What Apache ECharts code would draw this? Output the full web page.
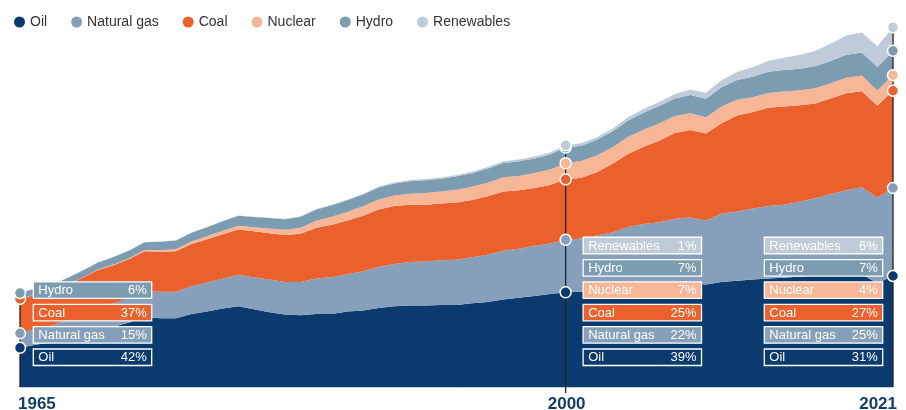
<!DOCTYPE html>
<html>
<head>
<meta charset="utf-8">
<script src="https://cdn.jsdelivr.net/npm/echarts@6/dist/echarts.min.js"></script>
<style>
  html, body { margin: 0; padding: 0; background: #fff; }
  #chart { width: 906px; height: 410px; }
</style>
</head>
<body>
<div id="chart"></div>
<script>
// years on the x axis
const years = []
for (let y = 1965; y <= 2021; y++) years.push(String(y))

// primary energy consumption by source (EJ)
const oil = [65, 70, 74, 80, 87, 95, 100, 107, 116, 114,
  114, 121, 125, 130, 134, 129, 124, 120, 119, 121,
  121, 125, 127, 131, 134, 135, 135, 136, 136, 139,
  141, 145, 148, 151, 154, 157, 158, 160, 163, 168,
  170, 171, 173, 172, 170, 174, 176, 178, 180, 181,
  183, 185, 187, 186, 187, 172, 184]
const gas = [24, 26, 28, 31, 34, 37, 39, 41, 43, 44,
  44, 46, 48, 50, 52, 53, 54, 54, 55, 59,
  61, 62, 65, 68, 70, 72, 73, 74, 75, 76,
  78, 81, 81, 83, 84, 87, 88, 91, 93, 97,
  100, 102, 106, 109, 106, 113, 115, 118, 120, 121,
  124, 128, 133, 140, 144, 142, 146]
const coal = [57, 57, 56, 58, 60, 62, 63, 64, 66, 66,
  67, 70, 72, 73, 75, 76, 77, 78, 80, 84,
  87, 89, 92, 95, 96, 95, 94, 94, 95, 95,
  97, 98, 97, 96, 97, 100, 101, 105, 114, 121,
  128, 135, 142, 145, 144, 150, 159, 160, 163, 163,
  160, 157, 158, 161, 159, 152, 161]
const nuclear = [0.2, 0.3, 0.4, 0.5, 0.6, 0.8, 1.1, 1.5, 2.0, 2.6,
  3.5, 4.1, 5.0, 5.8, 6.2, 6.8, 7.9, 8.6, 9.8, 11.5,
  13.2, 14.2, 15.5, 16.8, 17.3, 18.5, 19.5, 20.0, 21.0, 21.8,
  22.6, 23.5, 23.8, 24.5, 25.6, 26.8, 27.5, 27.8, 27.4, 28.4,
  28.5, 28.7, 28.0, 27.8, 27.3, 27.8, 26.3, 24.3, 24.4, 24.8,
  24.9, 25.1, 25.3, 25.6, 26.2, 25.3, 25.9]
const hydro = [9.5, 10, 10.3, 10.7, 11.2, 11.7, 12.2, 12.6, 12.9, 14.0,
  14.2, 14.4, 14.8, 15.8, 16.5, 16.8, 17.1, 17.6, 18.2, 18.6,
  19.0, 19.3, 19.5, 20.0, 20.0, 20.6, 21.1, 21.2, 22.2, 22.4,
  23.4, 23.8, 24.2, 24.4, 24.8, 26.0, 25.4, 25.8, 25.9, 27.3,
  28.2, 29.0, 29.1, 30.3, 30.4, 32.2, 32.6, 34.0, 35.0, 35.8,
  35.5, 36.6, 37.0, 38.2, 38.4, 38.5, 40.3]
const renewables = [0.2, 0.2, 0.2, 0.2, 0.2, 0.3, 0.3, 0.3, 0.3, 0.4,
  0.4, 0.4, 0.5, 0.5, 0.6, 0.6, 0.7, 0.8, 0.9, 1.1,
  1.2, 1.3, 1.4, 1.5, 1.8, 2.0, 2.1, 2.2, 2.3, 2.4,
  2.6, 2.7, 2.9, 3.1, 3.3, 3.7, 3.9, 4.3, 4.7, 5.4,
  6.0, 6.8, 7.7, 8.9, 10.0, 11.6, 13.4, 15.5, 17.9, 20.2,
  22.7, 25.4, 28.7, 31.8, 33.0, 35.0, 39.0]

const names = ['Oil', 'Natural gas', 'Coal', 'Nuclear', 'Hydro', 'Renewables']
const colors = ['#0b3a6e', '#86a0bc', '#eb612d', '#f7b696', '#7c9cb2', '#bfcbd8']

// highlighted years and their share labels (%)
const markYears = ['1965', '2000', '2021']
const pct1965 = [42, 15, 37, null, 6, null]
const pct2000 = [39, 22, 25, 7, 7, 1]
const pct2021 = [31, 25, 27, 4, 7, 6]
const shares = [pct1965, pct2000, pct2021]

const seriesData = [oil, gas, coal, nuclear, hydro, renewables]
const FONT = '"Liberation Sans", Arial, sans-serif'

// running totals for the dots on the guide lines
const cum = seriesData.map(() => [])
years.forEach((_, j) => {
  let s = 0
  seriesData.forEach((arr, i) => { s += arr[j]; cum[i][j] = s })
})

const chart = echarts.init(document.getElementById('chart'))

const areaSeries = names.map((n, i) => ({
  name: n,
  type: 'line',
  stack: 'energy',
  data: seriesData[i],
  symbol: 'none',
  lineStyle: { width: 0 },
  itemStyle: { color: colors[i] },
  areaStyle: { color: colors[i], opacity: 1 },
  emphasis: { disabled: true },
  z: 1
}))

// vertical guide lines
const lineSeries = markYears.map((yr, k) => {
  const j = years.indexOf(yr)
  return {
    type: 'line',
    name: 'guide' + yr,
    data: [[yr, k === 1 ? -10 : 0], [yr, cum[5][j]]],
    symbol: 'none',
    clip: false,
    lineStyle: { color: '#222', width: 1.3 },
    z: 3,
    silent: true
  }
})

// dots at the top of each layer
const dotData = []
markYears.forEach((yr, k) => {
  const j = years.indexOf(yr)
  names.forEach((n, i) => {
    if (shares[k][i] == null) return
    dotData.push({ value: [yr, cum[i][j]], itemStyle: { color: colors[i] } })
  })
})

chart.setOption({
  animation: false,
  legend: {
    data: names,
    icon: 'circle',
    itemWidth: 11,
    itemHeight: 11,
    itemGap: 24,
    left: 9,
    top: 10,
    textStyle: { fontSize: 14, color: '#333', fontFamily: FONT }
  },
  grid: { left: 20, right: 13, top: 25, bottom: 23 },
  xAxis: {
    type: 'category',
    data: years,
    boundaryGap: false,
    axisLine: { lineStyle: { color: '#c3cfdb', width: 1 } },
    axisTick: { show: false },
    axisLabel: { show: false },
    splitLine: { show: false }
  },
  yAxis: {
    type: 'value',
    min: 0,
    max: 600,
    show: false
  },
  series: [
    ...areaSeries,
    ...lineSeries,
    {
      type: 'scatter',
      name: 'dots',
      data: dotData,
      symbolSize: 11,
      itemStyle: { borderColor: '#fff', borderWidth: 1.5, opacity: 1 },
      z: 5,
      silent: true
    }
  ]
})

// share boxes and year labels
const graphics = []
const boxW = 118.4, boxH = 16.5, rowStep = 22.35, bottomRowY = 349
const boxOffset = [13.3, 17.5, -128.7]
markYears.forEach((yr, k) => {
  const px = chart.convertToPixel({ xAxisIndex: 0 }, yr)
  const left = px + boxOffset[k]
  let r = 0
  names.forEach((n, i) => {
    const p = shares[k][i]
    if (p == null) return
    const top = bottomRowY - r * rowStep
    r++
    graphics.push({
      type: 'rect',
      shape: { x: left, y: top, width: boxW, height: boxH },
      style: { fill: colors[i], stroke: '#fff', lineWidth: 1.3 },
      z: 10
    })
    graphics.push({
      type: 'text',
      x: left + 5, y: top + boxH / 2 + 0.5,
      style: { text: n, fill: '#fff', font: '13px ' + FONT, textAlign: 'left', textVerticalAlign: 'middle' },
      z: 11
    })
    graphics.push({
      type: 'text',
      x: left + boxW - 5, y: top + boxH / 2 + 0.5,
      style: { text: p + '%', fill: '#fff', font: '13px ' + FONT, textAlign: 'right', textVerticalAlign: 'middle' },
      z: 11
    })
  })
  const align = ['left', 'center', 'right'][k]
  const shift = [-2, 1, 4][k]
  graphics.push({
    type: 'text',
    x: px + shift, y: 396,
    style: { text: yr, fill: '#163d68', font: 'bold 17px ' + FONT, textAlign: align, textVerticalAlign: 'top' },
    z: 11
  })
})
chart.setOption({ graphic: graphics })
</script>
</body>
</html>
